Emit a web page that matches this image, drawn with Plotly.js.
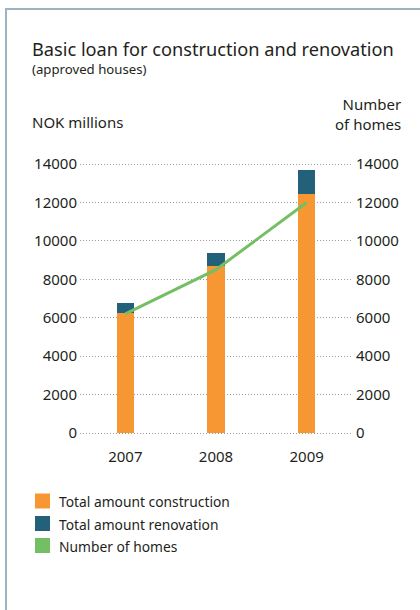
<!DOCTYPE html>
<html>
<head>
<meta charset="utf-8">
<script src="https://cdn.plot.ly/plotly-3.0.1.min.js"></script>
<style>
  html, body { margin: 0; padding: 0; background: #fff; }
  #wrap { position: relative; width: 420px; height: 610px; }
  #chart { width: 420px; height: 610px; }
  #frame { position: absolute; left: 5px; top: 8px; right: 0; bottom: 0;
           border-left: 2px solid #9db3bf; border-top: 2px solid #9db3bf; pointer-events: none; }
</style>
</head>
<body>
<div id="wrap"><div id="chart"></div><div id="frame"></div></div>
<script>
// ---- data ----
const years = ['2007', '2008', '2009'];
const constructionAmount = [6250, 8700, 12450];
const renovationAmount = [500, 650, 1250];
const numberOfHomes = [6200, 8500, 12000];
const seriesNames = ['Total amount construction', 'Total amount renovation', 'Number of homes'];
const seriesColors = ['#f69733', '#23607a', '#74bf63'];
const tickVals = [0, 2000, 4000, 6000, 8000, 10000, 12000, 14000];
const tickText = ['0', '2000', '4000', '6000', '8000', '10000', '12000', '14000'];
const titleText = 'Basic loan for construction and renovation';
const subtitleText = '(approved houses)';
const leftAxisTitle = 'NOK millions';
const rightAxisTitle = 'Number<br>of homes';

// ---- geometry helpers (plot area in pixels) ----
const W = 420, H = 610;
const PL = 80, PR = 352, PT = 160, PB = 437;     // plot box (value range padded ~4px each side)
const Y0 = 433, Y14 = 164;                         // pixel rows of 0 and 14000
const px = x => (x - PL) / (PR - PL);
const py = y => (PB - y) / (PB - PT);

const FONT = '"Noto Sans", "Open Sans", sans-serif';
const TXT = '#231f20';

const traces = [
  { type: 'bar', x: years, y: constructionAmount, name: seriesNames[0],
    marker: { color: seriesColors[0] }, width: 0.19, showlegend: false, hoverinfo: 'skip' },
  { type: 'bar', x: years, y: renovationAmount, name: seriesNames[1],
    marker: { color: seriesColors[1] }, width: 0.19, showlegend: false, hoverinfo: 'skip' },
  { type: 'scatter', mode: 'lines', x: years, y: numberOfHomes, name: seriesNames[2],
    yaxis: 'y2', line: { color: seriesColors[2], width: 3 }, showlegend: false, hoverinfo: 'skip' }
];

const annotations = [
  { text: titleText, x: px(30), y: py(49), xanchor: 'left', yanchor: 'middle',
    font: { family: FONT, size: 18.2, color: TXT } },
  { text: subtitleText, x: px(30), y: py(69), xanchor: 'left', yanchor: 'middle',
    font: { family: FONT, size: 13.2, color: TXT } },
  { text: leftAxisTitle, x: px(30), y: py(122), xanchor: 'left', yanchor: 'middle',
    font: { family: FONT, size: 15, color: TXT } },
  { text: rightAxisTitle, x: px(403), y: py(114), xanchor: 'right', yanchor: 'middle', align: 'right',
    font: { family: FONT, size: 15, color: TXT } }
];
const shapes = [];
const legendRows = [501, 523.5, 545.5];
seriesNames.forEach((name, i) => {
  const cy = legendRows[i];
  shapes.push({ type: 'rect', xref: 'paper', yref: 'paper',
    x0: px(35), x1: px(50), y0: py(cy - 7.5), y1: py(cy + 7.5),
    fillcolor: seriesColors[i], line: { width: 0 } });
  annotations.push({ text: name, x: px(57), y: py(cy + 0.5), xanchor: 'left', yanchor: 'middle',
    font: { family: FONT, size: 13.8, color: TXT } });
});
annotations.forEach(a => { a.xref = 'paper'; a.yref = 'paper'; a.showarrow = false; });

// pad the value range a few px on each side so the 0 and 14000 gridlines are drawn
const unitPerPx = 14000 / (Y0 - Y14);
const yRange = [-(PB - Y0) * unitPerPx, 14000 + (Y14 - PT) * unitPerPx];

const layout = {
  width: W, height: H,
  margin: { l: PL, r: W - PR, t: PT, b: H - PB, pad: 0 },
  paper_bgcolor: '#fff', plot_bgcolor: '#fff',
  barmode: 'stack',
  showlegend: false,
  font: { family: FONT, size: 15, color: TXT },
  xaxis: { type: 'category', range: [-0.5, 2.5], showgrid: false, zeroline: false,
    showline: false, ticks: '', ticklabelstandoff: 9, tickfont: { size: 15, color: TXT } },
  yaxis: { range: yRange, tickvals: tickVals, ticktext: tickText, showgrid: true, griddash: '1px,2px',
    gridcolor: '#9a9a9a', gridwidth: 1, zeroline: false, showline: false, ticks: '',
    ticklabelstandoff: 2, tickfont: { size: 15, color: TXT } },
  yaxis2: { range: yRange, tickvals: tickVals, ticktext: tickText, overlaying: 'y', side: 'right',
    showgrid: false, zeroline: false, showline: false, ticks: '',
    ticklabelstandoff: 3, tickfont: { size: 15, color: TXT } },
  annotations: annotations,
  shapes: shapes
};

Plotly.newPlot('chart', traces, layout, { displayModeBar: false, staticPlot: true });
</script>
</body>
</html>
